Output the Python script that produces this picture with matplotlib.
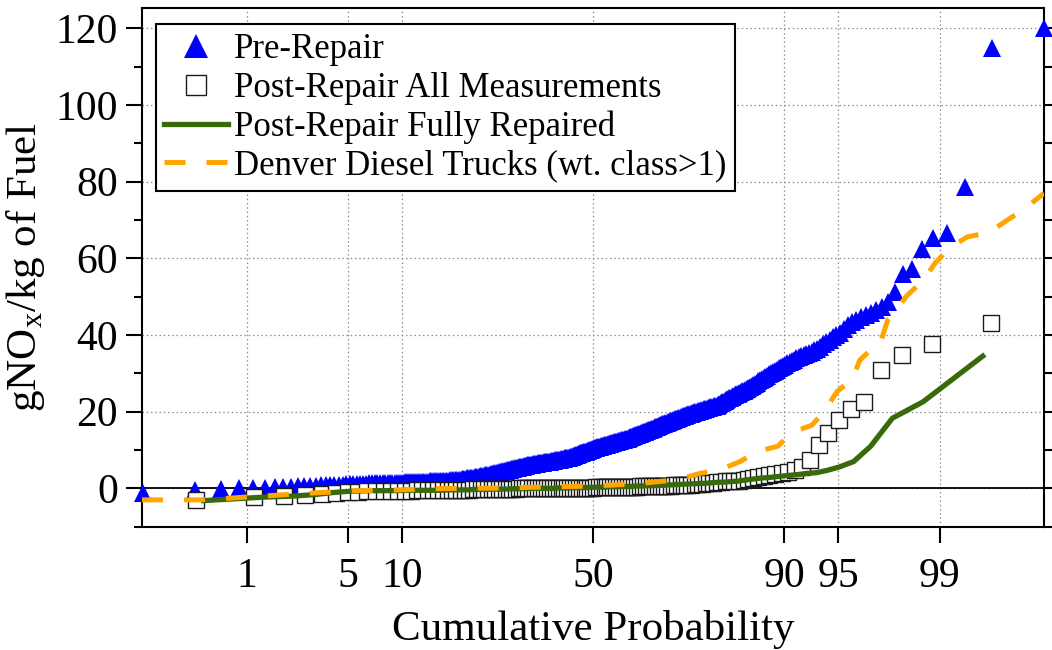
import numpy as np
import matplotlib
matplotlib.use('Agg')
import matplotlib.pyplot as plt
from matplotlib.ticker import MultipleLocator, NullLocator
from statistics import NormalDist

# sorted gNOx/kg fuel values
pre_repair = [
    -1.2, -0.4, -0.2, 0.0, 0.1,
    0.2, 0.3, 0.3, 0.4, 0.5, 0.5, 0.6, 0.7, 0.8, 0.9,
    0.9, 1.0, 1.0, 1.0, 1.1, 1.1, 1.1, 1.2, 1.2, 1.2,
    1.2, 1.3, 1.3, 1.3, 1.3, 1.4, 1.4, 1.4, 1.4, 1.4,
    1.5, 1.5, 1.5, 1.5, 1.5, 1.5, 1.6, 1.6, 1.6, 1.6,
    1.6, 1.6, 1.7, 1.7, 1.7, 1.7, 1.7, 1.7, 1.7, 1.8,
    1.8, 1.8, 1.8, 1.8, 1.8, 1.8,
    1.9, 1.9, 1.9, 2.0, 2.0, 2.0, 2.1, 2.1, 2.1, 2.2,
    2.2, 2.3, 2.3, 2.3, 2.4, 2.4, 2.5, 2.5, 2.6, 2.6,
    2.7, 2.7, 2.8, 2.8, 2.9, 2.9, 3.0, 3.0, 3.1,
    3.2, 3.2, 3.3, 3.4, 3.4, 3.5, 3.6, 3.6, 3.7, 3.8,
    3.8, 3.9, 4.0, 4.0, 4.1, 4.2, 4.3, 4.3, 4.4, 4.5,
    4.5, 4.6, 4.7, 4.8, 4.8, 4.9, 5.0, 5.0, 5.1, 5.2,
    5.3, 5.3, 5.4, 5.5, 5.5, 5.6, 5.7, 5.7, 5.8, 5.9, 5.9, 6.0, 6.0, 6.1,
    6.1, 6.2, 6.2, 6.3, 6.3, 6.4, 6.4, 6.4, 6.5, 6.5, 6.6, 6.6, 6.7, 6.7, 6.8, 6.8,
    6.9, 6.9, 7.0, 7.0, 7.0, 7.1, 7.1, 7.2, 7.2, 7.3, 7.3, 7.4, 7.4, 7.5, 7.5,
    7.6, 7.6, 7.7, 7.7, 7.8, 7.8, 7.9, 7.9, 8.0, 8.0, 8.1,
    8.2, 8.3, 8.4, 8.5, 8.6, 8.7, 8.8, 8.9, 9.0,
    9.1, 9.2, 9.2, 9.3, 9.4, 9.5, 9.6, 9.6, 9.7, 9.8, 9.9, 10.0, 10.1, 10.2, 10.3,
    10.4, 10.4, 10.5, 10.6, 10.7, 10.7, 10.8, 10.9, 11.0, 11.0,
    11.1, 11.2, 11.2, 11.3, 11.4, 11.5, 11.5, 11.6, 11.7, 11.8,
    11.8, 11.9, 12.0, 12.1, 12.1, 12.2, 12.3, 12.4, 12.4, 12.5,
    12.6, 12.7, 12.7, 12.8, 12.9, 13.0, 13.0, 13.1, 13.2,
    13.3, 13.4, 13.5, 13.6, 13.7, 13.8, 13.9, 14.0, 14.1, 14.2, 14.3,
    14.4, 14.5, 14.6, 14.7, 14.8, 14.9, 15.0, 15.1, 15.2, 15.3,
    15.4, 15.5, 15.6, 15.7, 15.9, 16.0, 16.1, 16.2, 16.3, 16.4,
    16.6, 16.7, 16.8, 16.9, 17.0, 17.1, 17.3, 17.4, 17.5, 17.6,
    17.7, 17.8, 17.9, 18.0, 18.1, 18.2, 18.3, 18.4, 18.5, 18.6, 18.8,
    18.9, 19.0, 19.1, 19.2, 19.3, 19.4, 19.5, 19.6, 19.7, 19.8,
    19.9, 20.0, 20.1, 20.2, 20.3, 20.4, 20.5, 20.6, 20.7, 20.8,
    20.9, 21.0, 21.1, 21.2, 21.3, 21.4, 21.5, 21.6,
    21.8, 22.0, 22.2, 22.4, 22.6, 22.8, 23.0, 23.3, 23.5, 23.7,
    23.9, 24.1, 24.3, 24.5, 24.7, 24.9, 25.1, 25.3, 25.5, 25.7, 25.9, 26.1, 26.4,
    26.7, 27.0, 27.3, 27.6, 27.9, 28.2, 28.5, 28.8, 29.1, 29.4,
    29.8, 30.1, 30.4, 30.7, 31.0, 31.3, 31.6, 32.0,
    32.3, 32.6, 33.0, 33.3, 33.6, 33.9, 34.2, 34.5, 34.8, 35.1, 35.4, 35.7, 36.0, 36.4,
    37.0, 37.6, 38.2, 38.8, 39.4, 40.0, 40.6,
    41.5, 42.5, 43.3, 44.0,
    44.6, 45.2, 45.8, 46.4, 47.2, 48.6, 51.3, 55.8, 57.3, 62.5, 65.2, 66.7, 78.5, 115.0, 120.0,
]

post_all = [
    -3.1, -2.3, -1.9, -1.7, -1.5, -1.2, -1.0, -0.9, -0.8, -0.8,
    -0.7, -0.7, -0.6, -0.6, -0.6, -0.5, -0.5, -0.4,
    -0.4, -0.4, -0.4, -0.3, -0.3, -0.3, -0.3, -0.3, -0.3, -0.2, -0.2, -0.2,
    -0.2, -0.2, -0.2, -0.2, -0.1, -0.1, -0.1, -0.1, -0.1, -0.1, 0.0, 0.0, 0.0, 0.0,
    0.0, 0.0, 0.0, 0.0, 0.1, 0.1, 0.1, 0.1, 0.1, 0.1, 0.1,
    0.1, 0.1, 0.2, 0.2, 0.2, 0.2, 0.2, 0.2, 0.2, 0.2, 0.2,
    0.3, 0.3, 0.3, 0.3, 0.3, 0.3, 0.3, 0.3, 0.4, 0.4, 0.4, 0.4, 0.4, 0.4, 0.4, 0.5, 0.5, 0.5, 0.5,
    0.5, 0.6, 0.6, 0.6, 0.7, 0.7, 0.7, 0.8, 0.8, 0.8, 0.9,
    1.0, 1.0, 1.1, 1.2, 1.2, 1.3, 1.4, 1.5, 1.6,
    1.7, 1.8, 1.9, 1.9, 2.0,
    2.2, 2.4, 2.7,
    3.0, 3.3, 3.6, 3.8, 4.1,
    4.3, 4.7, 5.7,
    7.3, 11.3, 14.4, 17.8, 20.6, 22.5, 30.9, 34.8, 37.7, 43.2,
]

post_fixed = [
    -3.2, -2.3, -2.0, -1.6, -1.1, -0.8, -0.7, -0.6, -0.6, -0.6,
    -0.6, -0.5, -0.5, -0.5, -0.5, -0.5, -0.5, -0.5, -0.4, -0.4,
    -0.4, -0.4, -0.4, -0.3, -0.3, -0.3, -0.3, -0.2, -0.2, -0.2,
    -0.2, -0.2, -0.1, -0.1, -0.1, -0.1, -0.1, 0.0, 0.0, 0.0,
    0.0, 0.0, 0.0, 0.0, 0.0, 0.1, 0.1, 0.1, 0.1, 0.1,
    0.2, 0.2, 0.2, 0.2, 0.2, 0.3, 0.3, 0.3, 0.3, 0.3,
    0.4, 0.4, 0.4, 0.4, 0.5, 0.5, 0.5, 0.5, 0.6, 0.6,
    0.6, 0.7, 0.7, 0.7, 0.8, 0.8, 0.8, 0.9, 0.9, 1.0,
    1.0, 1.1, 1.1, 1.2, 1.2, 1.3, 1.3, 1.4, 1.5, 1.6,
    1.6, 1.7, 1.8, 1.9, 2.1, 2.3, 2.5, 2.7, 2.8, 3.0,
    3.2, 3.4, 3.6, 3.9, 4.1, 4.7, 5.6, 7.0, 11.0, 18.3, 22.6, 34.5,
]

# Denver diesel trucks (wt. class>1): cumulative probability (%) and value
denver_pct = [0.123, 0.415, 0.71, 1.06, 1.50, 2.19, 3.0, 4.27, 5.64, 7.42,
              9.73, 13.66, 18.54, 28.1, 38.6, 50.0, 61.5, 71.7, 76.3, 80.2,
              83.8, 86.4, 89.25, 90.9, 92.9, 94.0, 94.9, 95.87, 96.33, 96.97,
              97.28, 97.6, 97.86, 98.24, 98.66, 98.91, 99.17, 99.40, 99.61,
              99.725, 99.81, 99.876]
denver_val = [-3.0, -3.0, -2.6, -2.2, -1.9, -1.5, -1.2, -0.9, -0.6, -0.5,
              -0.4, -0.1, 0.0, 0.1, 0.4, 0.6, 1.2, 2.3, 3.9, 4.8,
              7.0, 9.6, 11.0, 14.6, 16.5, 20.2, 25.2, 28.3, 33.5, 36.6,
              37.5, 44.0, 46.1, 50.3, 54.2, 58.7, 62.9, 65.6, 66.8,
              69.9, 72.9, 77.0]

xticks = [1, 5, 10, 50, 90, 95, 99]

nd = NormalDist()


def fwd(p):
    p = np.clip(np.asarray(p, dtype=float), 1e-9, 100 - 1e-9)
    return np.vectorize(lambda v: nd.inv_cdf(v / 100.0), otypes=[float])(p)


def inv(z):
    z = np.asarray(z, dtype=float)
    return np.vectorize(lambda v: 100.0 * nd.cdf(v), otypes=[float])(z)


def positions(n):
    return (np.arange(1, n + 1) - 0.5) / n * 100.0


plt.rcParams['font.family'] = 'Liberation Serif'
plt.rcParams['mathtext.fontset'] = 'custom'
plt.rcParams['mathtext.rm'] = 'Liberation Serif'

fig = plt.figure(figsize=(10.52, 6.5), dpi=100)
ax = fig.add_axes([0.1353, 0.1897, 0.8571, 0.7985])
ax.set_xscale('function', functions=(fwd, inv))

ax.axhline(0, color='black', lw=1.3, zorder=1.5)

ax.plot(positions(len(pre_repair)), pre_repair, '^', color='#0000FF', ms=13, mew=0,
        clip_on=False, zorder=3, label='Pre-Repair')
ax.plot(positions(len(post_all)), post_all, 's', mfc='white', mec='#1a1a1a', ms=11.5,
        mew=1.0, clip_on=False, zorder=4, label='Post-Repair All Measurements')
ax.plot(positions(len(post_fixed)), post_fixed, '-', color='#386A0C', lw=3.8,
        zorder=5, label='Post-Repair Fully Repaired')
ax.plot(denver_pct, denver_val, color='#FFA500', lw=3.6, dashes=(4.2, 4.2),
        dash_capstyle='butt', zorder=6, label='Denver Diesel Trucks (wt. class>1)')

ax.set_xlim(0.124, 99.876)
ax.set_ylim(-10, 125.4)
ax.set_xticks(xticks)
ax.set_xticklabels([str(t) for t in xticks])
ax.xaxis.set_minor_locator(NullLocator())
ax.yaxis.set_major_locator(MultipleLocator(20))
ax.yaxis.set_minor_locator(MultipleLocator(10))

ax.grid(True, which='major', color='#8c8c8c', linestyle=(0, (1.2, 2.2)), linewidth=0.9)
ax.set_axisbelow(True)

for s in ax.spines.values():
    s.set_linewidth(1.5)
ax.tick_params(axis='both', which='major', direction='out', length=11.5, width=1.5,
               labelsize=30)
ax.tick_params(axis='y', which='both', right=True, direction='out', width=1.5)
ax.tick_params(axis='y', which='minor', length=5.8)
ax.tick_params(axis='y', which='major', pad=6)
ax.tick_params(axis='x', which='major', pad=11)

ax.set_xlabel('Cumulative Probability', fontsize=31, labelpad=10)
ax.set_ylabel('gNO$_\\mathregular{x}$/kg of Fuel', fontsize=31, labelpad=6)

leg = ax.legend(loc='upper left', bbox_to_anchor=(0.0149, 0.968), borderaxespad=0,
                fontsize=25, fancybox=False, framealpha=1, edgecolor='black',
                markerscale=1.3, handlelength=1.84, handletextpad=0.15,
                borderpad=0.25, labelspacing=0.165)
leg.get_frame().set_linewidth(1.5)

fig.savefig('out.png', dpi=100)
